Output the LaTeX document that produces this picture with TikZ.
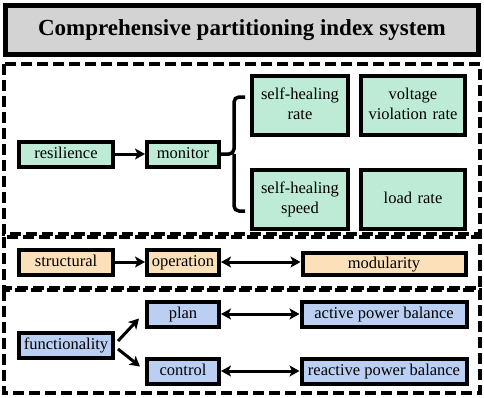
\documentclass[tikz,border=0pt]{standalone}
\usepackage{fontspec}
\setmainfont{Liberation Serif}
\usepackage{tikz}
\usetikzlibrary{arrows.meta}
\definecolor{fmint}{HTML}{BDEBD5}
\definecolor{fpeach}{HTML}{FCE0B9}
\definecolor{fsky}{HTML}{BACFF2}
\definecolor{fgray}{HTML}{D3D3D3}

\begin{document}
\begin{tikzpicture}[x=1pt, y=-1pt, font=\fontsize{16.5}{20}\selectfont,
  cell/.style={draw, line width=4pt, inner sep=0pt, align=center, minimum height=25pt,
    text height=11.5pt, text depth=3.5pt},
  pair/.style={cell, minimum height=59pt, text depth=23.5pt},
  zone/.style={line width=3.5pt, dash pattern=on 11pt off 5pt},
  arr/.style={line width=3pt, -{Stealth[length=10pt, width=11pt, inset=2.5pt]}},
  darr/.style={line width=3pt, {Stealth[length=10pt, width=11pt, inset=2.5pt]}-{Stealth[length=10pt, width=11pt, inset=2.5pt]}},
  brace/.style={line width=3.5pt, rounded corners=5pt}]
\useasboundingbox (0,0) rectangle (484,397);
% ---------------- title ----------------
\node[draw, line width=4.5pt, fill=fgray, minimum width=473pt, minimum height=49pt,
  font=\fontsize{23}{26}\selectfont\bfseries] (ttl) at (242,30) {Comprehensive partitioning index system};
% ---------------- zones ----------------
\draw[zone] (4,64) rectangle (480,234);
\draw[zone] (4,237) rectangle (480,288);
\draw[zone] (4,290) rectangle (480,393);
% ---------------- resilience ----------------
\node[cell, fill=fmint, minimum width=94pt] (res) at (66,154) {resilience};
\node[cell, fill=fmint, minimum width=72pt] (mon) at (183,154) {monitor};
\node[pair, fill=fmint, text width=96pt] (shr) at (300,105) {self-healing\\rate};
\node[pair, fill=fmint, text width=104pt] (vvr) at (413,105) {voltage\\violation rate};
\node[pair, fill=fmint, text width=96pt] (shs) at (300,199) {self-healing\\speed};
\node[cell, fill=fmint, text width=104pt, minimum height=59pt] (lr) at (413,199) {load rate};
\draw[arr] (res) -- (mon);
\coordinate (bt) at (245,97);
\coordinate (bb) at (245,211);
\draw[brace] (bt) -- (234,97) -- (234,154) -- (mon.east);
\draw[brace] (234,154) -- (234,211) -- (bb);
% ---------------- structural ----------------
\node[cell, fill=fpeach, minimum width=94pt] (str) at (66,262) {structural};
\node[cell, fill=fpeach, minimum width=72pt] (ope) at (183,262) {operation};
\node[cell, fill=fpeach, minimum width=163pt, minimum height=22pt] (mod) at (384,264) {modularity};
\draw[arr] (str) -- (ope);
\draw[darr] (ope.east) -- (mod.west |- ope.east);
% ---------------- functionality ----------------
\node[cell, fill=fsky, minimum width=94pt] (fun) at (66,345) {functionality};
\node[cell, fill=fsky, minimum width=72pt] (pla) at (183,314) {plan};
\node[cell, fill=fsky, minimum width=72pt] (con) at (183,371) {control};
\node[cell, fill=fsky, minimum width=165pt] (apb) at (384,314) {active power balance};
\node[cell, fill=fsky, minimum width=165pt] (rpb) at (384,371) {reactive power balance};
\draw[arr] ([shift={(3pt,4pt)}]fun.east) -- ([shift={(-6pt,10pt)}]pla.south west);
\draw[arr] ([shift={(3pt,-4pt)}]fun.east) -- ([shift={(-5pt,-10pt)}]con.north west);
\draw[darr] (pla) -- (apb);
\draw[darr] (con) -- (rpb);
\end{tikzpicture}
\end{document}
